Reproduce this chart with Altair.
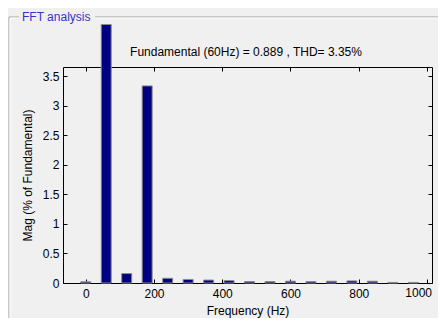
import altair as alt
import pandas as pd

freqs = [0, 60, 120, 180, 240, 300, 360, 420, 480, 540, 600, 660, 720, 780, 840, 900, 960]
mags = [0.02, 4.38, 0.16, 3.34, 0.08, 0.06, 0.05, 0.04, 0.025, 0.025, 0.03, 0.025, 0.03, 0.035, 0.03, 0.01, 0.01]
x_ticks = [0, 200, 400, 600, 800, 1000]
y_ticks = [0, 0.5, 1, 1.5, 2, 2.5, 3, 3.5]
panel_title = "FFT analysis"
plot_title = "Fundamental (60Hz) = 0.889 , THD= 3.35%"

W, H = 369, 216
FONT = "Liberation Sans"

df = pd.DataFrame({"f": freqs, "m": mags})
one = alt.Data(values=[{"a": 0}])
last_tick = pd.DataFrame({"f": [x_ticks[-1]], "t": [str(x_ticks[-1])]})

xscale = alt.Scale(domain=[-52, 1000], nice=False, zero=False)

bars = alt.Chart(df).mark_bar(
    size=10, color="#000080", stroke="#8c8c8c", strokeWidth=1, clip=False
).encode(
    x=alt.X("f:Q", scale=xscale,
            axis=alt.Axis(values=x_ticks, title="Frequency (Hz)",
                          labelExpr="datum.value == 1000 ? '' : datum.value + ''",
                          grid=True, gridDash=[4, H - 8], gridColor="black", gridOpacity=1,
                          ticks=False, tickSize=0, domain=False, labelPadding=5,
                          labelFlush=False, titlePadding=6)),
    y=alt.Y("m:Q", scale=alt.Scale(domain=[0, 3.66], nice=False),
            axis=alt.Axis(values=y_ticks, title="Mag (% of Fundamental)", labelExpr="datum.value + ''",
                          grid=True, gridDash=[4, W - 8], gridColor="black", gridOpacity=1,
                          ticks=False, tickSize=0, domain=False, labelPadding=4,
                          titlePadding=8)),
)

end_label = alt.Chart(last_tick).mark_text(
    align="right", baseline="top", font=FONT, fontSize=12, color="black", dx=5, clip=False
).encode(x=alt.X("f:Q", scale=xscale), y=alt.value(H + 5), text="t:N")

def rule(x1, x2, y1, y2, color):
    return alt.Chart(one).mark_rule(color=color, strokeWidth=1, clip=False).encode(
        x=alt.value(x1), x2=alt.value(x2), y=alt.value(y1), y2=alt.value(y2))

frame = [
    rule(-54, -44, -50, -50, "#a0a0a0"),
    rule(-53, -44, -49, -49, "white"),
    rule(32, 380, -50, -50, "#a0a0a0"),
    rule(32, 380, -49, -49, "white"),
    rule(-54, -54, -50, 260, "#a0a0a0"),
    rule(-53, -53, -49, 260, "white"),
]

ptitle = alt.Chart(one).mark_text(
    align="left", baseline="middle", font=FONT, fontSize=12, color="#3333cc"
).encode(x=alt.value(-41), y=alt.value(-50), text=alt.value(panel_title))

mtitle = alt.Chart(one).mark_text(
    align="center", baseline="middle", font=FONT, fontSize=12, color="black"
).encode(x=alt.value(183), y=alt.value(-15), text=alt.value(plot_title))

chart = alt.layer(*frame, ptitle, mtitle, bars, end_label).properties(
    width=W, height=H,
    autosize=alt.AutoSizeParams(type="none"),
    padding={"left": 55, "top": 59, "right": 6, "bottom": 35},
    background="#f0f0f0",
).configure_view(
    stroke="black", strokeWidth=1
).configure_axis(
    labelFont=FONT, labelFontSize=12, labelColor="black",
    titleFont=FONT, titleFontSize=12, titleColor="black", titleFontWeight="normal",
)

chart.save("out.html", embed_options={"renderer": "svg", "actions": False})
